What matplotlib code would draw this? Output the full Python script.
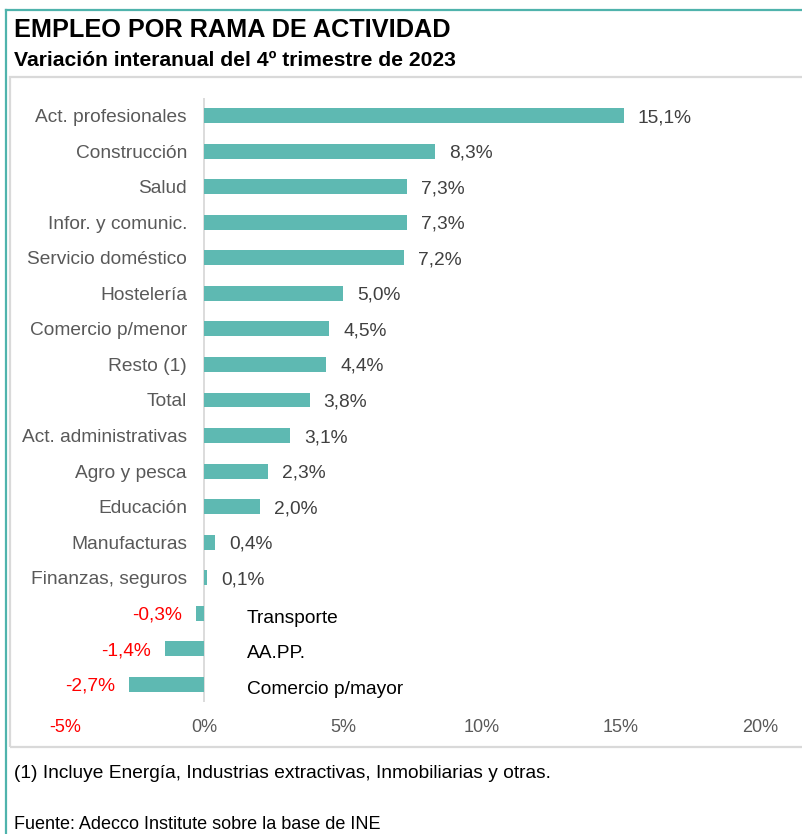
import matplotlib
matplotlib.use('Agg')
import matplotlib.pyplot as plt
import matplotlib.transforms as mtransforms
from matplotlib.patches import Rectangle
from matplotlib.lines import Line2D

# data
categories = ['Act. profesionales', 'Construcción', 'Salud', 'Infor. y comunic.',
              'Servicio doméstico', 'Hostelería', 'Comercio p/menor', 'Resto (1)',
              'Total', 'Act. administrativas', 'Agro y pesca', 'Educación',
              'Manufacturas', 'Finanzas, seguros', 'Transporte', 'AA.PP.',
              'Comercio p/mayor']
values = [15.1, 8.3, 7.3, 7.3, 7.2, 5.0, 4.5, 4.4, 3.8, 3.1, 2.3, 2.0,
          0.4, 0.1, -0.3, -1.4, -2.7]
xticks = [-5, 0, 5, 10, 15, 20]

title = 'EMPLEO POR RAMA DE ACTIVIDAD'
subtitle = 'Variación interanual del 4º trimestre de 2023'
note = '(1) Incluye Energía, Industrias extractivas, Inmobiliarias y otras.'
source = 'Fuente: Adecco Institute sobre la base de INE'

# style
W, H = 803, 834
bar_color = '#5EB9B2'
teal = '#4FB3AC'
grid_gray = '#D9D9D9'
label_gray = '#595959'
value_gray = '#404040'
red = '#FF0000'
plt.rcParams['font.family'] = ['Liberation Sans', 'DejaVu Sans']


def fx(px):
    return px / W


def fy(px):
    return 1 - px / H


fig = plt.figure(figsize=(W / 100, H / 100), dpi=100)

# outer frame and chart box
fig.add_artist(Rectangle((fx(10.5), fy(747)), fx(820) - fx(10.5), fy(77) - fy(747),
                         transform=fig.transFigure, fill=False,
                         edgecolor=grid_gray, lw=1.6))
fig.add_artist(Line2D([fx(6.5), fx(810)], [fy(9.5), fy(9.5)],
                      transform=fig.transFigure, color=teal, lw=1.6))
fig.add_artist(Line2D([fx(6.5), fx(6.5)], [fy(9.5), fy(840)],
                      transform=fig.transFigure, color=teal, lw=1.6))

fig.text(fx(14), fy(37), title, fontsize=18.2, fontweight='bold', va='baseline')
fig.text(fx(14), fy(66), subtitle, fontsize=15.2, fontweight='bold', va='baseline')
fig.text(fx(14), fy(778), note, fontsize=13.8, va='baseline')
fig.text(fx(14), fy(829), source, fontsize=13, va='baseline')

ax = fig.add_axes([fx(65), fy(702), fx(760) - fx(65), fy(98) - fy(702)])
ypos = list(range(len(categories)))
ax.barh(ypos, values, height=0.42, color=bar_color, zorder=2)
ax.set_xlim(-5, 20)
ax.set_ylim(len(categories) - 0.5, -0.5)
ax.axvline(0, color=grid_gray, lw=1.3, zorder=1)
for s in ax.spines.values():
    s.set_visible(False)
ax.set_yticks([])
ax.set_xticks(xticks)
ax.set_xticklabels([f'{t}%' for t in xticks], fontsize=13)
ax.tick_params(axis='x', length=0, pad=12)
for t, lab in zip(xticks, ax.get_xticklabels()):
    lab.set_color(red if t < 0 else label_gray)

off = lambda dx, dy: mtransforms.offset_copy(ax.transData, fig=fig, x=dx, y=dy, units='dots')

for y, (cat, v) in enumerate(zip(categories, values)):
    txt = f'{v:.1f}%'.replace('.', ',')
    if v >= 0:
        ax.text(0, y, cat, transform=off(-17, 0), ha='right', va='center_baseline',
                fontsize=13.8, color=label_gray)
        ax.text(v, y, txt, transform=off(14, 0), ha='left', va='center_baseline',
                fontsize=13.8, color=value_gray)
    else:
        ax.text(0, y, cat, transform=off(43, -3), ha='left', va='center_baseline',
                fontsize=13.8, color='black')
        ax.text(v, y, txt, transform=off(-14, 0), ha='right', va='center_baseline',
                fontsize=13.8, color=red)

fig.savefig('out.png', dpi=100)
